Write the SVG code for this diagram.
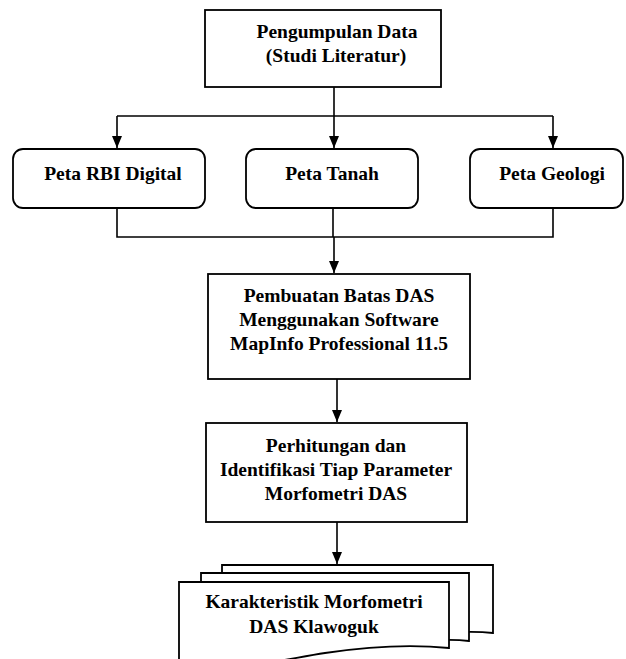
<svg xmlns="http://www.w3.org/2000/svg" width="626" height="659" viewBox="0 0 626 659">
<style>
.box{fill:#fff;stroke:#000;stroke-width:1.8}
.ln{fill:none;stroke:#000;stroke-width:1.6}
text{font-family:'Liberation Serif','Times New Roman',Tinos,'DejaVu Serif',serif;font-weight:bold;font-size:19.5px;fill:#000;text-anchor:middle}
</style>
<defs>
<marker id="ah" viewBox="0 0 12 10" refX="12" refY="5" markerWidth="12" markerHeight="10" markerUnits="userSpaceOnUse" orient="auto">
<path d="M0,0 L12,5 L0,10 z" fill="#000"/>
</marker>
</defs>
<rect width="626" height="659" fill="#fff"/>
<g id="connectors">
<path class="ln" d="M334,87 V116"/>
<path class="ln" d="M117,116 H553"/>
<path class="ln" d="M117,116 V148" marker-end="url(#ah)"/>
<path class="ln" d="M334,116 V148" marker-end="url(#ah)"/>
<path class="ln" d="M553,116 V148" marker-end="url(#ah)"/>
<path class="ln" d="M117,208 V237 H553 V208"/>
<path class="ln" d="M333,208 V237"/>
<path class="ln" d="M334,237 V273" marker-end="url(#ah)"/>
<path class="ln" d="M337,379 V422" marker-end="url(#ah)"/>
<path class="ln" d="M337,522 V564" marker-end="url(#ah)"/>
</g>
<g id="n-pengumpulan">
<rect class="box" x="205" y="10" width="236" height="77"/>
<text x="337" y="38" font-family="Liberation Serif, serif">Pengumpulan Data</text>
<text x="336" y="62" font-family="Liberation Serif, serif">(Studi Literatur)</text>
</g>
<g id="n-rbi">
<rect class="box" x="13" y="149" width="192" height="59" rx="10"/>
<text x="113" y="180">Peta RBI Digital</text>
</g>
<g id="n-tanah">
<rect class="box" x="246" y="149" width="172" height="59" rx="10"/>
<text x="332" y="180">Peta Tanah</text>
</g>
<g id="n-geologi">
<rect class="box" x="470" y="149" width="153" height="59" rx="10"/>
<text x="552" y="180">Peta Geologi</text>
</g>
<g id="n-pembuatan">
<rect class="box" x="208" y="274" width="262" height="105"/>
<text x="339" y="302">Pembuatan Batas DAS</text>
<text x="339" y="326">Menggunakan Software</text>
<text x="339" y="350">MapInfo Professional 11.5</text>
</g>
<g id="n-perhitungan">
<rect class="box" x="206" y="423" width="261" height="99"/>
<text x="336" y="452">Perhitungan dan</text>
<text x="336" y="476">Identifikasi Tiap Parameter</text>
<text x="336" y="500">Morfometri DAS</text>
</g>
<g id="n-karakteristik">
<path class="box" d="M222,565 H493 V633 C450,628 400,640 222,650 Z"/>
<path class="box" d="M201,573 H469 V641 C430,636 380,648 201,660 Z"/>
<path class="box" d="M179,582 H449 V648 C410,644 365,647 325,653 C285,659 235,672 179,668 Z"/>
<text x="314" y="608">Karakteristik Morfometri</text>
<text x="314" y="633">DAS Klawoguk</text>
</g>
</svg>
